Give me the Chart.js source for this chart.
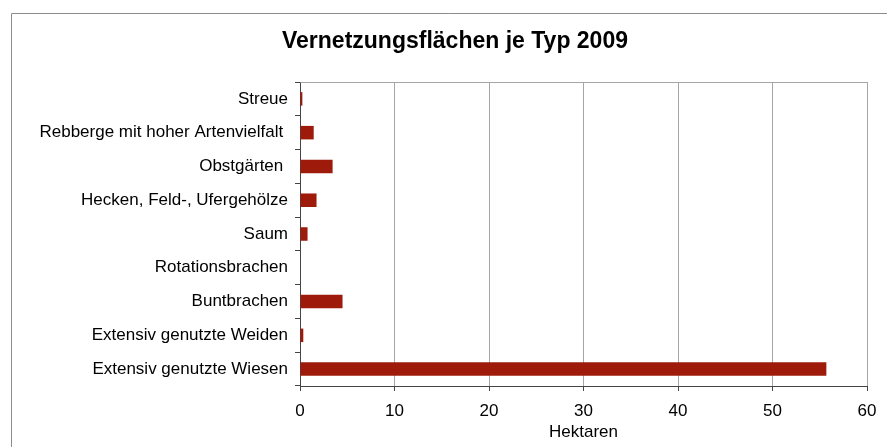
<!DOCTYPE html>
<html>
<head>
<meta charset="utf-8">
<script src="https://cdn.jsdelivr.net/npm/chart.js@4/dist/chart.umd.min.js"></script>
<style>
  body { margin: 0; background: #fff; }
  canvas { display: block; }
</style>
</head>
<body>
<canvas id="chart" width="887" height="447"></canvas>
<script>
const labels = [
    'Streue',
    'Rebberge mit hoher Artenvielfalt ',
    'Obstgärten ',
    'Hecken, Feld-, Ufergehölze',
    'Saum',
    'Rotationsbrachen',
    'Buntbrachen',
    'Extensiv genutzte Weiden',
    'Extensiv genutzte Wiesen'
];
const hektaren = [0.25, 1.45, 3.45, 1.75, 0.8, 0, 4.5, 0.35, 55.7];
const xTicks = [0, 10, 20, 30, 40, 50, 60];
const chartTitle = 'Vernetzungsflächen je Typ 2009';

// outer frame, title and top border of the plot
const framePlugin = {
    id: 'frame',
    beforeDraw(chart) {
        const ctx = chart.ctx;
        ctx.save();
        ctx.strokeStyle = '#8c8c8c';
        ctx.lineWidth = 1;
        ctx.beginPath();
        ctx.moveTo(11.5, 1000);
        ctx.lineTo(11.5, 13.5);
        ctx.lineTo(1000, 13.5);
        ctx.stroke();
        ctx.fillStyle = '#000';
        ctx.font = 'bold 23px "Liberation Sans"';
        ctx.textAlign = 'center';
        ctx.textBaseline = 'middle';
        ctx.fillText(chartTitle, 455, 42);
        ctx.restore();
    },
    afterDatasetsDraw(chart) {
        const a = chart.chartArea;
        const ctx = chart.ctx;
        ctx.save();
        ctx.strokeStyle = '#a6a6a6';
        ctx.lineWidth = 1;
        ctx.beginPath();
        ctx.moveTo(Math.round(a.left) + 0.5, Math.round(a.top) + 0.5);
        ctx.lineTo(Math.round(a.right) + 0.5, Math.round(a.top) + 0.5);
        ctx.stroke();
        ctx.restore();
    }
};

const data = {
    labels: labels,
    datasets: [{
        data: hektaren,
        backgroundColor: '#9e1b0b',
        borderWidth: 0,
        categoryPercentage: 0.4,
        barPercentage: 1
    }]
};

const config = {
    type: 'bar',
    data: data,
    plugins: [framePlugin],
    options: {
        indexAxis: 'y',
        responsive: false,
        animation: false,
        layout: { padding: { left: 0, right: 20, top: 82, bottom: 0 } },
        plugins: {
            legend: { display: false },
            tooltip: { enabled: false },
            title: { display: false }
        },
        scales: {
            x: {
                min: 0,
                max: 60,
                afterBuildTicks: s => { s.ticks = xTicks.map(v => ({ value: v })); },
                afterFit: s => { s.height = 61; },
                grid: { color: '#a6a6a6', tickColor: '#444', tickLength: 5 },
                border: { color: '#444' },
                ticks: {
                    color: '#000',
                    padding: 10,
                    font: { family: 'Liberation Sans', size: 17 }
                },
                title: {
                    display: true,
                    text: 'Hektaren',
                    color: '#000',
                    font: { family: 'Liberation Sans', size: 17 },
                    padding: { top: 0, bottom: 4 }
                }
            },
            y: {
                afterFit: s => { s.width = 300; },
                grid: { offset: true, drawOnChartArea: false, tickColor: '#444', tickLength: 5 },
                border: { color: '#444' },
                ticks: {
                    color: '#000',
                    padding: 7,
                    font: { family: 'Liberation Sans', size: 17 }
                }
            }
        }
    }
};

const myChart = new Chart(document.querySelector('#chart'), config);
</script>
</body>
</html>
